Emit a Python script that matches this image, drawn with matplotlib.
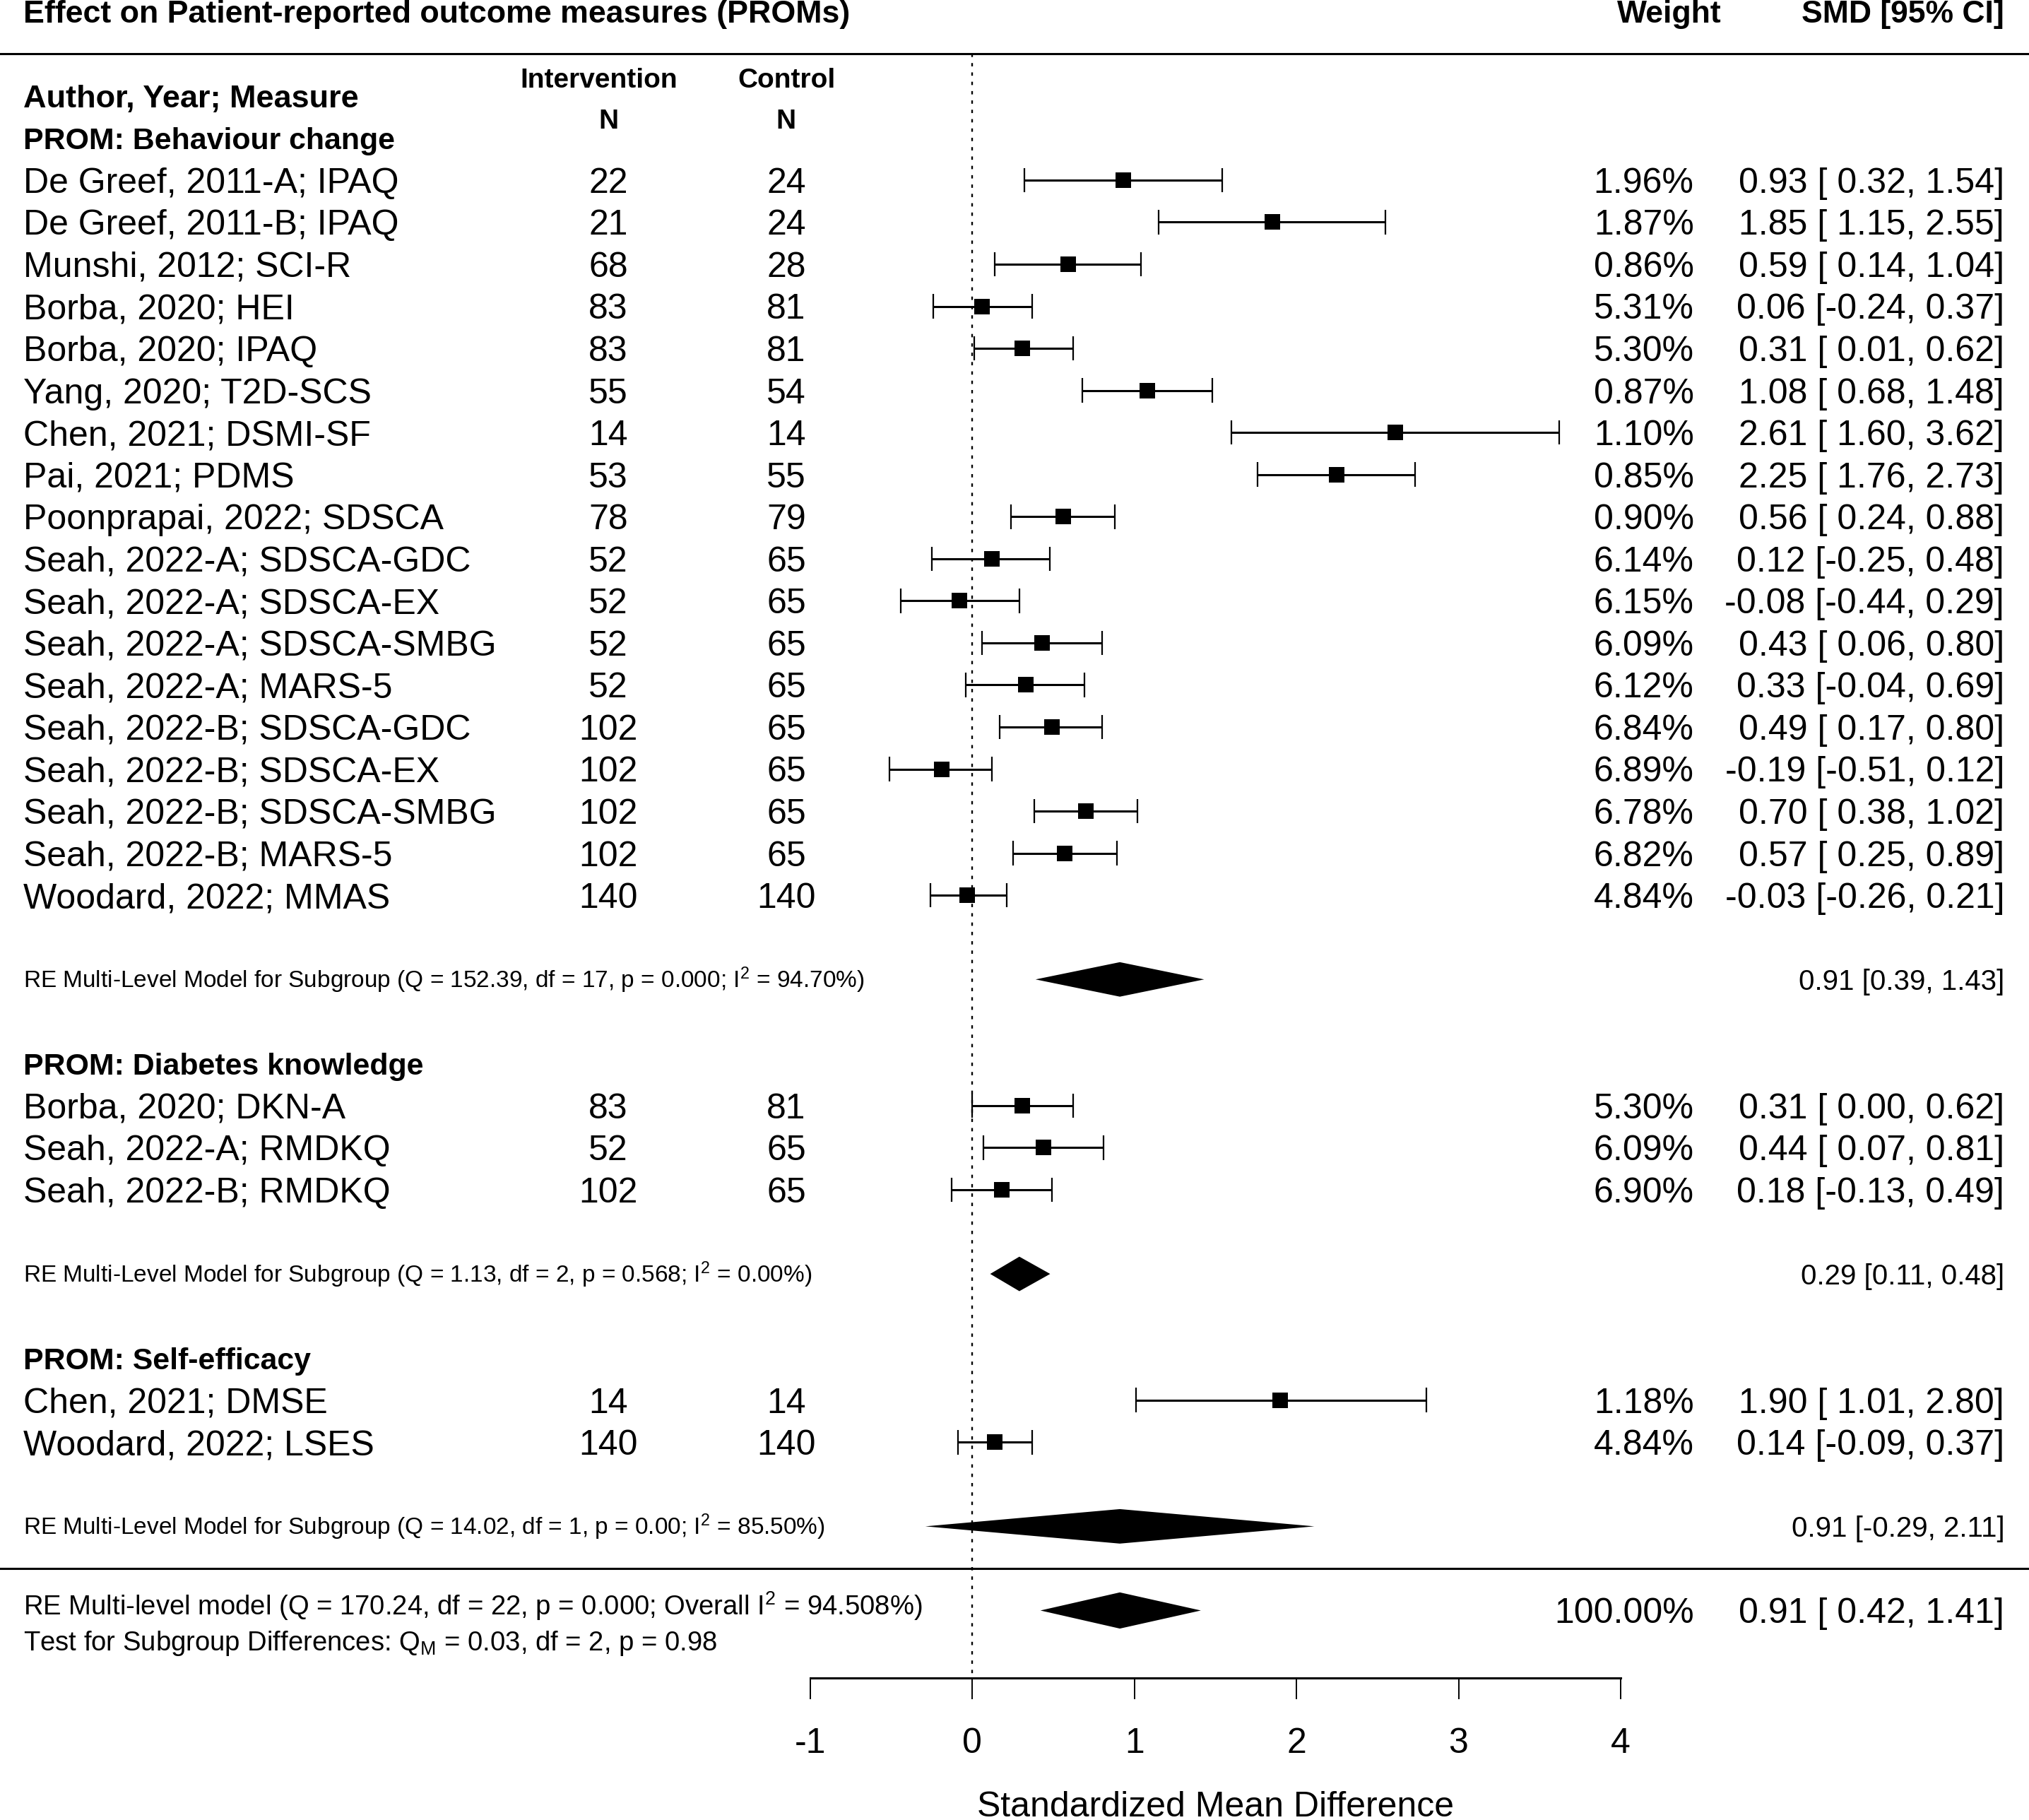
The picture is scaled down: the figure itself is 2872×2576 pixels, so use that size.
import matplotlib
matplotlib.use('Agg')
import matplotlib.pyplot as plt
import matplotlib.transforms as mtransforms

plt.rcParams['font.family'] = 'Liberation Sans'
plt.rcParams['mathtext.fontset'] = 'custom'
plt.rcParams['mathtext.rm'] = 'Liberation Sans'
plt.rcParams['mathtext.it'] = 'Liberation Sans:italic'
plt.rcParams['mathtext.bf'] = 'Liberation Sans:bold'
plt.rcParams['axes.unicode_minus'] = False

# Subgroups
groups = ['PROM: Behaviour change', 'PROM: Diabetes knowledge', 'PROM: Self-efficacy']
group_sizes = [18, 3, 2]

# Studies (in plotting order)
studies = [
    'De Greef, 2011-A; IPAQ', 'De Greef, 2011-B; IPAQ', 'Munshi, 2012; SCI-R',
    'Borba, 2020; HEI', 'Borba, 2020; IPAQ', 'Yang, 2020; T2D-SCS',
    'Chen, 2021; DSMI-SF', 'Pai, 2021; PDMS', 'Poonprapai, 2022; SDSCA',
    'Seah, 2022-A; SDSCA-GDC', 'Seah, 2022-A; SDSCA-EX', 'Seah, 2022-A; SDSCA-SMBG',
    'Seah, 2022-A; MARS-5', 'Seah, 2022-B; SDSCA-GDC', 'Seah, 2022-B; SDSCA-EX',
    'Seah, 2022-B; SDSCA-SMBG', 'Seah, 2022-B; MARS-5', 'Woodard, 2022; MMAS',
    'Borba, 2020; DKN-A', 'Seah, 2022-A; RMDKQ', 'Seah, 2022-B; RMDKQ',
    'Chen, 2021; DMSE', 'Woodard, 2022; LSES',
]
n_int = [22, 21, 68, 83, 83, 55, 14, 53, 78, 52, 52, 52, 52, 102, 102, 102, 102, 140,
         83, 52, 102, 14, 140]
n_ctl = [24, 24, 28, 81, 81, 54, 14, 55, 79, 65, 65, 65, 65, 65, 65, 65, 65, 140,
         81, 65, 65, 14, 140]
weights = [1.96, 1.87, 0.86, 5.31, 5.30, 0.87, 1.10, 0.85, 0.90, 6.14, 6.15, 6.09,
           6.12, 6.84, 6.89, 6.78, 6.82, 4.84, 5.30, 6.09, 6.90, 1.18, 4.84]
smd = [0.93, 1.85, 0.59, 0.06, 0.31, 1.08, 2.61, 2.25, 0.56, 0.12, -0.08, 0.43,
       0.33, 0.49, -0.19, 0.70, 0.57, -0.03, 0.31, 0.44, 0.18, 1.90, 0.14]
ci_lo = [0.32, 1.15, 0.14, -0.24, 0.01, 0.68, 1.60, 1.76, 0.24, -0.25, -0.44, 0.06,
         -0.04, 0.17, -0.51, 0.38, 0.25, -0.26, 0.00, 0.07, -0.13, 1.01, -0.09]
ci_hi = [1.54, 2.55, 1.04, 0.37, 0.62, 1.48, 3.62, 2.73, 0.88, 0.48, 0.29, 0.80,
         0.69, 0.80, 0.12, 1.02, 0.89, 0.21, 0.62, 0.81, 0.49, 2.80, 0.37]

# Subgroup random-effects summaries
sub_est = [0.91, 0.29, 0.91]
sub_lo = [0.39, 0.11, -0.29]
sub_hi = [1.43, 0.48, 2.11]
sub_stats = ['Q = 152.39, df = 17, p = 0.000', 'Q = 1.13, df = 2, p = 0.568',
             'Q = 14.02, df = 1, p = 0.00']
sub_i2 = ['94.70', '0.00', '85.50']

# Overall model
overall_est = 0.91
overall_lo = 0.42
overall_hi = 1.41
overall_weight = 100.00

ticks = [-1, 0, 1, 2, 3, 4]

# row layout (rows counted downward)
header_rows, study_rows, sub_rows = [], [], []
cur = -1
for n in group_sizes:
    header_rows.append(cur)
    study_rows += list(range(cur + 1, cur + n + 1))
    sub_rows.append(cur + n + 2)
    cur = cur + n + 4
line_row = sub_rows[-1] + 1
overall_row = line_row + 1
axis_row = 35.6

fig = plt.figure(figsize=(14.36, 12.88), dpi=200)
ax = fig.add_axes([0, 0, 1, 1])
ax.set_xlim(-6.0, 6.52)
ax.set_ylim(38.98, -4.28)

for s in ['top', 'left', 'right']:
    ax.spines[s].set_visible(False)
ax.spines['bottom'].set_position(('data', axis_row))
ax.spines['bottom'].set_bounds(ticks[0], ticks[-1])
ax.spines['bottom'].set_linewidth(1.1)
ax.set_yticks([])
ax.set_xticks(ticks)
ax.set_xticklabels([str(t) for t in ticks])
ax.tick_params(axis='x', direction='out', length=10.8, width=0.7, pad=14.5, labelsize=18)
ax.set_xlabel('Standardized Mean Difference', fontsize=18)
ax.xaxis.set_label_coords(1.5, 38.9, transform=ax.transData)
ax.xaxis.label.set_va('baseline')

tr = mtransforms.blended_transform_factory(ax.transAxes, ax.transData)


def put(x, y, s, fs, ha='left', weight='normal'):
    # vertically centre on the cap height, as R's text() does
    off = 0.01671 * fs
    ax.text(x, y + off, s, fontsize=fs, ha=ha, va='baseline', fontweight=weight,
            transform=tr)


X_LEFT = 0.0115
X_NI = 0.2998
X_NC = 0.3875
X_W = 0.8348
X_SMD = 0.9879

# title and column headers
ax.text(X_LEFT, -3.74, 'Effect on Patient-reported outcome measures (PROMs)', fontsize=16.1,
        fontweight='bold', va='baseline', transform=tr)
ax.text(0.8227, -3.74, 'Weight', fontsize=16, fontweight='bold', ha='center',
        va='baseline', transform=tr)
ax.text(X_SMD, -3.74, 'SMD [95% CI]', fontsize=16, fontweight='bold', ha='right',
        va='baseline', transform=tr)
put(X_LEFT, -2, 'Author, Year; Measure', 16.25, weight='bold')
put(0.2953, -2.43, 'Intervention', 14, ha='center', weight='bold')
put(0.3878, -2.43, 'Control', 14, ha='center', weight='bold')
put(X_NI, -1.45, 'N', 14, ha='center', weight='bold')
put(X_NC, -1.45, 'N', 14, ha='center', weight='bold')

# horizontal rules and reference line
ax.axhline(-3, color='black', lw=1.1)
ax.axhline(line_row, color='black', lw=1.1)
ax.plot([0, 0], [-3, axis_row], color='black', lw=0.85, ls=(0, (2, 3.6)))

# study rows
ax.hlines(study_rows, ci_lo, ci_hi, color='black', lw=1.1)
for y, lo, hi in zip(study_rows, ci_lo, ci_hi):
    ax.vlines([lo, hi], y - 0.29, y + 0.29, color='black', lw=0.8)
ax.plot(smd, study_rows, 's', color='black', ms=7.9, mew=0)

for i, y in enumerate(study_rows):
    put(X_LEFT, y, studies[i], 18)
    put(X_NI, y, str(n_int[i]), 18, ha='center')
    put(X_NC, y, str(n_ctl[i]), 18, ha='center')
    put(X_W, y, f'{weights[i]:.2f}%', 18, ha='right')
    put(X_SMD, y, f'{smd[i]:.2f} [{ci_lo[i]:5.2f}, {ci_hi[i]:.2f}]', 18, ha='right')

# subgroup headers and summaries
h = 0.41
for g in range(len(groups)):
    put(X_LEFT, header_rows[g], groups[g], 15.45, weight='bold')
    y = sub_rows[g]
    ax.fill([sub_lo[g], sub_est[g], sub_hi[g], sub_est[g]], [y, y - h, y, y + h],
            color='black', lw=0)
    put(X_LEFT, y, 'RE Multi-Level Model for Subgroup (' + sub_stats[g] +
        r'; $\mathrm{I}^2$ = ' + sub_i2[g] + '%)', 12)
    put(X_SMD, y, f'{sub_est[g]:.2f} [{sub_lo[g]:.2f}, {sub_hi[g]:.2f}]', 14.5, ha='right')

# overall model
y = overall_row
ax.fill([overall_lo, overall_est, overall_hi, overall_est], [y, y - 0.43, y, y + 0.43],
        color='black', lw=0)
put(X_LEFT, y - 0.12, r'RE Multi-level model (Q = 170.24, df = 22, p = 0.000; Overall '
    r'$\mathrm{I}^2$ = 94.508%)', 13.75)
put(X_LEFT, y + 0.72, r'Test for Subgroup Differences: $\mathrm{Q}_\mathrm{M}$ = 0.03, '
    r'df = 2, p = 0.98', 13.75)
put(X_W, y, f'{overall_weight:.2f}%', 18, ha='right')
put(X_SMD, y, f'{overall_est:.2f} [{overall_lo:5.2f}, {overall_hi:.2f}]', 18, ha='right')

fig.savefig('out.png', dpi=200)
